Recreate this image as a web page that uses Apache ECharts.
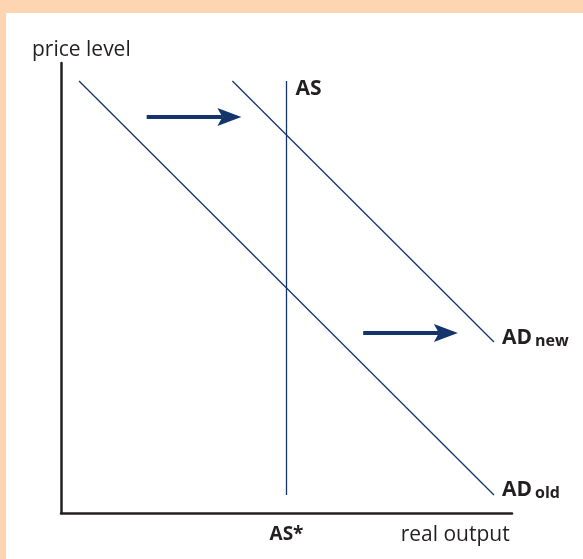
<!DOCTYPE html>
<html>
<head>
<meta charset="utf-8">
<script src="https://cdn.jsdelivr.net/npm/echarts@6/dist/echarts.min.js"></script>
<style>
  html, body { margin: 0; padding: 0; background: #fdd5b1; }
  #root { position: absolute; left: 6px; top: 13px; width: 577px; height: 546px; background: #fff; }
</style>
</head>
<body>
<div id="root"></div>
<script>
// diagram data (arbitrary units, 0..100 on both axes)
const adOld = [[4, 96], [96, 4]];
const adNew = [[38, 96], [96, 38]];
const asLine = [[50, 4], [50, 96]];
// shift arrows: [xFrom, xTo, y]
const shiftArrows = [[19, 40, 88], [67, 88, 40]];
// labels under the x axis
const xLabelValues = [50, 87.4];
const xLabelTexts = ['AS*', 'real output'];

const navy = '#14356c';
const ink = '#231f20';
const font = 'Open Sans';

let myChart = echarts.init(document.getElementById('root'));

function renderArrow(params, api) {
  let p1 = api.coord([api.value(0), api.value(2)]);
  let p2 = api.coord([api.value(1), api.value(2)]);
  let headLen = 24, headHalf = 9, notch = 5;
  return {
    type: 'group',
    children: [
      {
        type: 'line',
        shape: { x1: p1[0], y1: p1[1], x2: p2[0] - headLen + notch, y2: p2[1] },
        style: { stroke: navy, lineWidth: 4 }
      },
      {
        type: 'polygon',
        shape: {
          points: [
            [p2[0], p2[1]],
            [p2[0] - headLen, p2[1] - headHalf],
            [p2[0] - headLen + notch, p2[1]],
            [p2[0] - headLen, p2[1] + headHalf]
          ]
        },
        style: { fill: navy }
      }
    ]
  };
}

const adRich = {
  m: { fontSize: 21, fontWeight: 'bold', color: ink, fontFamily: font },
  s: { fontSize: 16, fontWeight: 'bold', color: ink, fontFamily: font, padding: [6, 0, 0, 3] }
};

let option = {
  animation: false,
  title: {
    text: 'price level',
    left: 21,
    top: 22,
    textStyle: { fontSize: 21, fontWeight: 'normal', color: ink, fontFamily: font }
  },
  grid: { left: 55, top: 50, right: 71, bottom: 46 },
  xAxis: {
    type: 'value',
    min: 0,
    max: 100,
    axisLine: { lineStyle: { color: ink, width: 2.5 } },
    axisTick: { show: false },
    splitLine: { show: false },
    axisLabel: {
      customValues: xLabelValues,
      margin: 12,
      formatter: function (v) {
        let i = xLabelValues.indexOf(v);
        if (i === 0) return '{b|' + xLabelTexts[0] + '}';
        if (i === 1) return '{n|' + xLabelTexts[1] + '}';
        return '';
      },
      rich: {
        b: { fontSize: 19, fontWeight: 'bold', color: ink, fontFamily: font },
        n: { fontSize: 21, color: ink, fontFamily: font }
      }
    }
  },
  yAxis: {
    type: 'value',
    min: 0,
    max: 100,
    axisLine: { show: true, lineStyle: { color: ink, width: 2.5 } },
    axisTick: { show: false },
    splitLine: { show: false },
    axisLabel: { show: false }
  },
  series: [
    {
      name: 'AD old',
      type: 'line',
      data: adOld,
      symbol: 'none',
      lineStyle: { color: navy, width: 1.3 },
      endLabel: {
        show: true,
        distance: 8,
        offset: [0, -5],
        formatter: '{m|AD}{s|old}',
        rich: adRich
      }
    },
    {
      name: 'AD new',
      type: 'line',
      data: adNew,
      symbol: 'none',
      lineStyle: { color: navy, width: 1.3 },
      endLabel: {
        show: true,
        distance: 8,
        offset: [0, -4],
        formatter: '{m|AD}{s|new}',
        rich: adRich
      }
    },
    {
      name: 'AS',
      type: 'line',
      data: asLine,
      symbol: 'none',
      lineStyle: { color: navy, width: 1.3 },
      endLabel: {
        show: true,
        distance: 9,
        offset: [0, 8],
        formatter: 'AS',
        fontSize: 21,
        fontWeight: 'bold',
        color: ink,
        fontFamily: font
      }
    },
    {
      name: 'shift',
      type: 'custom',
      renderItem: renderArrow,
      data: shiftArrows,
      encode: { x: [0, 1], y: 2 }
    }
  ]
};

myChart.setOption(option);
</script>
</body>
</html>
